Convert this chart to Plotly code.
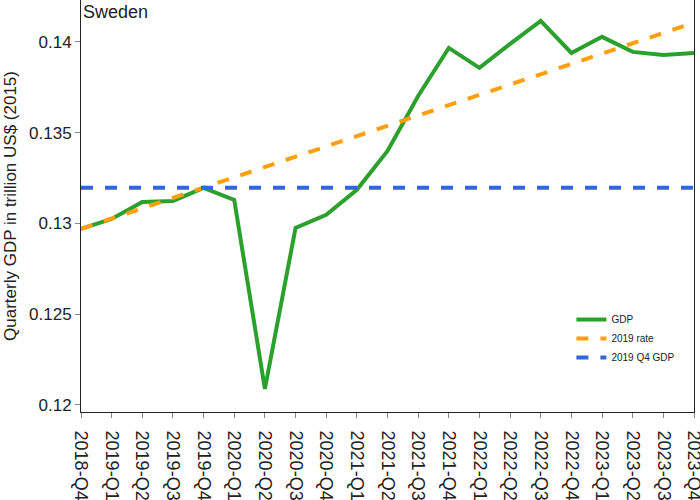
import plotly.graph_objects as go

quarters = ["2018-Q4", "2019-Q1", "2019-Q2", "2019-Q3", "2019-Q4",
            "2020-Q1", "2020-Q2", "2020-Q3", "2020-Q4",
            "2021-Q1", "2021-Q2", "2021-Q3", "2021-Q4",
            "2022-Q1", "2022-Q2", "2022-Q3", "2022-Q4",
            "2023-Q1", "2023-Q2", "2023-Q3", "2023-Q4"]

gdp = [0.12970, 0.13025, 0.13118, 0.13124, 0.13196,
       0.13129, 0.12088, 0.12975, 0.13047,
       0.13185, 0.13399, 0.13702, 0.13967,
       0.13857, 0.13989, 0.14116, 0.13939,
       0.14028, 0.13945, 0.13928, 0.13939]

rate_2019 = [0.12970, 0.13027, 0.13084, 0.13140, 0.13197,
             0.13254, 0.13311, 0.13368, 0.13424,
             0.13481, 0.13538, 0.13595, 0.13652,
             0.13708, 0.13765, 0.13822, 0.13879,
             0.13936, 0.13992, 0.14049, 0.14106]

q4_2019 = [0.13196] * len(quarters)

fig = go.Figure()
fig.add_trace(go.Scatter(x=quarters, y=gdp, mode="lines", name="GDP",
                         line=dict(color="#2ca02c", width=4)))
fig.add_trace(go.Scatter(x=quarters, y=rate_2019, mode="lines", name="2019 rate",
                         line=dict(color="#ff9f0e", width=4, dash="dash")))
fig.add_trace(go.Scatter(x=quarters, y=q4_2019, mode="lines", name="2019 Q4 GDP",
                         line=dict(color="#3366d6", width=4, dash="dash")))

axis_common = dict(showline=True, linecolor="#222", linewidth=1, mirror=True,
                   ticks="outside", tickcolor="#888", ticklen=5, showgrid=False,
                   zeroline=False, automargin=False)

fig.update_xaxes(**axis_common, tickangle=90, range=[0, 20],
                 tickfont=dict(size=18, color="#222"), ticklabelstandoff=9)
fig.update_yaxes(**axis_common, range=[0.11961, 0.14231],
                 tickvals=[0.12, 0.125, 0.13, 0.135, 0.14],
                 ticktext=["0.12", "0.125", "0.13", "0.135", "0.14"],
                 tickfont=dict(size=17, color="#222"),
                 title=dict(text="Quarterly GDP in trillion US$ (2015)",
                            font=dict(size=17, color="#222"), standoff=8))

fig.add_annotation(text="Sweden", xref="paper", yref="paper", x=0.0, y=1.0,
                   xanchor="left", yanchor="top", showarrow=False,
                   font=dict(size=18, color="#222"), xshift=0, yshift=0)

fig.update_layout(
    width=700, height=500,
    margin=dict(l=81, r=6, t=0, b=88, pad=0),
    paper_bgcolor="white", plot_bgcolor="white",
    font=dict(family="Liberation Sans, Arial, sans-serif", color="#222"),
    legend=dict(x=0.8, y=0.26, xanchor="left", yanchor="top",
                font=dict(size=10, color="#222"), bgcolor="rgba(0,0,0,0)"),
)

fig.write_html("out.html", config={"displayModeBar": False},
               post_script="document.body.style.margin='0';document.body.style.overflow='hidden';")
